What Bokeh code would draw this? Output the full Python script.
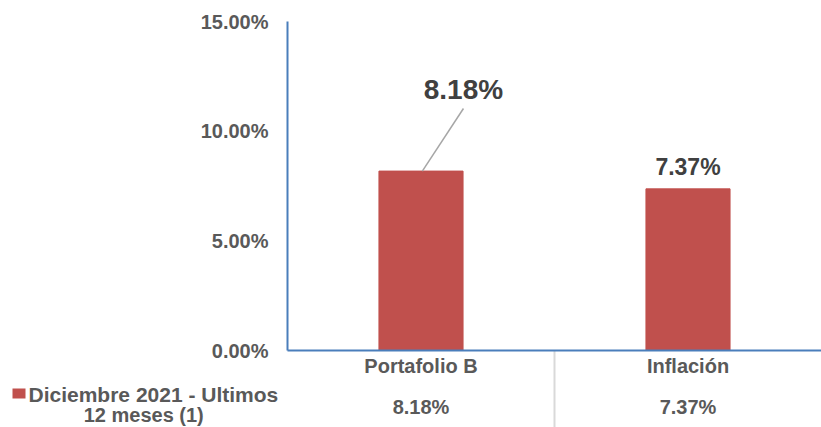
from bokeh.plotting import figure
from bokeh.models import ColumnDataSource, Range1d
from bokeh.core.properties import value
from bokeh.embed import file_html
from bokeh.resources import INLINE

# ---- data ----
categories = ["Portafolio B", "Inflación"]
values = [8.18, 7.37]
value_labels = ["8.18%", "7.37%"]
y_ticks = [0, 5, 10, 15]
y_tick_labels = ["0.00%", "5.00%", "10.00%", "15.00%"]
series_name_1 = "Diciembre 2021 - Ultimos"
series_name_2 = "12 meses  (1)"

# ---- layout (not data) ----
W, H = 821, 427
LEFT_PX = 287            # x position of the value axis
CAT_PX = (W - LEFT_PX) / len(categories)   # width of one category column
ZERO_PX = 350            # y position of 0%
UNIT_PX = 21.933         # pixels per percentage point

x_start = -LEFT_PX / CAT_PX
y_end = ZERO_PX / UNIT_PX
y_start = -(H - ZERO_PX) / UNIT_PX

def xs(px):
    return (px - LEFT_PX) / CAT_PX

def ys(py):
    return (ZERO_PX - py) / UNIT_PX

FONT = "Liberation Sans"
BAR = "#c0504d"
AXIS_BLUE = "#4a7ebb"
GRAY = "#595959"
DARK = "#404040"

p = figure(x_range=Range1d(x_start, len(categories)), y_range=Range1d(y_start, y_end),
           width=W, height=H, output_backend="svg", toolbar_location=None,
           x_axis_location=None, y_axis_location=None,
           min_border_left=0, min_border_right=0, min_border_top=0, min_border_bottom=0)
p.outline_line_color = None
p.xgrid.visible = False
p.ygrid.visible = False
p.background_fill_color = "white"
p.border_fill_color = "white"

xpos = [i + 0.5 for i in range(len(categories))]
label_dx = [0.159, 0.0]
label_y = [ys(88.5), values[1] + 1.0]
label_size = ["28px", "23px"]

src = ColumnDataSource(dict(x=xpos, cat=categories, val=values, lab=value_labels))

# bars
p.vbar(x="x", top="val", bottom=0, width=0.315, source=src,
       fill_color=BAR, line_color=BAR)

# separators between category columns in the table
seps = [i + 1 for i in range(len(categories) - 1)]
p.segment(x0=seps, x1=seps, y0=[0] * len(seps), y1=[y_start] * len(seps),
          line_color="#d9d9d9", line_width=2)

# value axis line and category baseline
p.segment(x0=[0], x1=[0], y0=[y_ticks[0]], y1=[y_ticks[-1]], line_color=AXIS_BLUE, line_width=2)
p.segment(x0=[0], x1=[len(categories)], y0=[0], y1=[0], line_color=AXIS_BLUE, line_width=2)

# value axis tick labels
p.text(x=[xs(268)] * len(y_ticks), y=y_ticks, text=y_tick_labels, text_font=value(FONT),
       text_font_style="bold", text_font_size="20px", text_color=GRAY,
       text_align="right", text_baseline="middle")

# leader line for first data label
p.segment(x0=[xpos[0] + 0.005], x1=[xpos[0] + label_dx[0]], y0=[values[0]], y1=[ys(108)],
          line_color="#a6a6a6", line_width=1.5)

# data labels
for i in range(len(categories)):
    p.text(x=[xpos[i] + label_dx[i]], y=[label_y[i]], text=[value_labels[i]],
           text_font=value(FONT), text_font_style="bold", text_font_size=label_size[i],
           text_color=DARK, text_align="center", text_baseline="middle")

# table rows: category names and values
p.text(x="x", y=ys(365.5), text="cat", source=src, text_font=value(FONT),
       text_font_style="bold", text_font_size="20px", text_color=GRAY,
       text_align="center", text_baseline="middle")
p.text(x="x", y=ys(406), text="lab", source=src, text_font=value(FONT),
       text_font_style="bold", text_font_size="20px", text_color=GRAY,
       text_align="center", text_baseline="middle")

# table legend key
p.quad(left=[xs(12)], right=[xs(25)], top=[ys(388)], bottom=[ys(398)],
       fill_color=BAR, line_color=None)
p.text(x=[xs(28)], y=[ys(394)], text=[series_name_1], text_font=value(FONT),
       text_font_style="bold", text_font_size="21px", text_color=GRAY,
       text_align="left", text_baseline="middle")
p.text(x=[xs(146)], y=[ys(414)], text=[series_name_2], text_font=value(FONT),
       text_font_style="bold", text_font_size="20px", text_color=GRAY,
       text_align="center", text_baseline="middle")

open("out.html", "w").write(file_html(p, INLINE))
